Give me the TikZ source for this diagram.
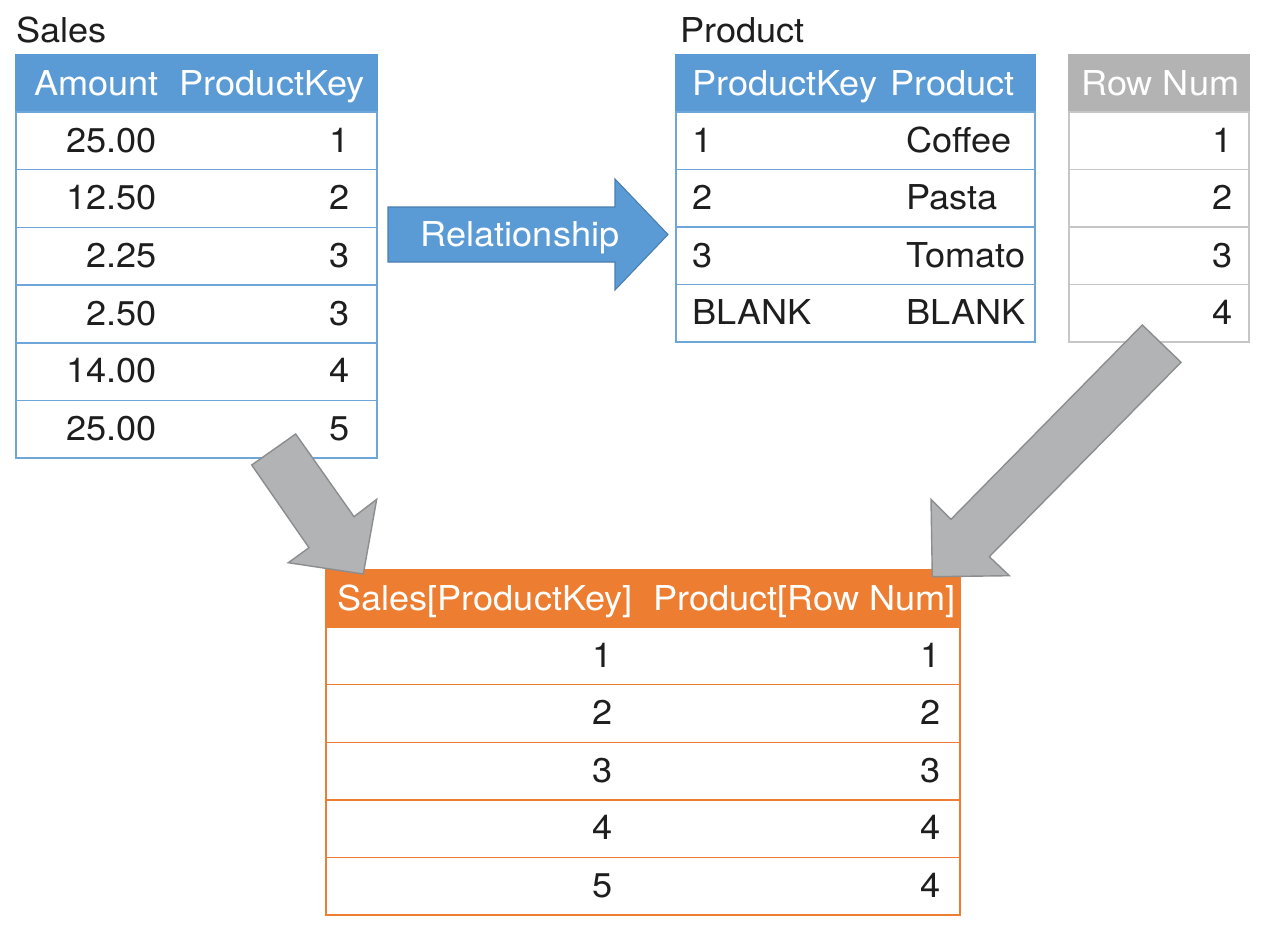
\documentclass[tikz,border=0pt]{standalone}
\usepackage{fontspec}
\setmainfont[FakeStretch=1.055]{TeX Gyre Heros}
\usetikzlibrary{positioning}

\definecolor{hdblue}{HTML}{5B9BD5}
\definecolor{lnblue}{HTML}{6FA6DA}
\definecolor{hdorange}{HTML}{ED7D31}
\definecolor{hdgray}{HTML}{B3B3B3}
\definecolor{lngray}{HTML}{C6C6C6}
\definecolor{argray}{HTML}{B2B3B5}
\definecolor{aredge}{HTML}{8C8D8F}
\definecolor{reledge}{HTML}{4A7EB0}
\definecolor{txt}{HTML}{1E1E1E}

\begin{document}
\begin{tikzpicture}[x=0.02cm,y=-0.02cm,
	every node/.style={font=\fontsize{19.5}{23}\selectfont,text=txt},
	row/.style={draw,line width=0.8pt,fill=white,minimum height=1.154cm,inner sep=0pt,outer sep=0pt,anchor=north west},
	head/.style={row,minimum height=1.14cm},
	rval/.style={anchor=base east,inner sep=0pt},
	lval/.style={anchor=base west,inner sep=0pt},
	htxt/.style={anchor=base west,inner sep=0pt,text=white},
	blockarrow/.style={fill=argray,draw=aredge,line width=0.8pt,line join=miter}]
	\useasboundingbox (0,0) rectangle (1268,930);

	% Sales table
	\node[lval] (sales-title) at (16,42) {Sales};
	\node[head,fill=hdblue,draw=hdblue,minimum width=7.22cm] (sales-head) at (16,55) {};
	\node[htxt] (sales-h1) at (34,95) {Amount};
	\node[htxt,anchor=base east] (sales-h2) at (365,95) {ProductKey};
	\foreach \amt/\key [count=\i] in {25.00/1,12.50/2,2.25/3,2.50/3,14.00/4,25.00/5}{
		\node[row,draw=lnblue,minimum width=7.22cm] (sales-\i) at (16,{112+(\i-1)*57.7}) {};
		\node[rval] (sales-amt-\i) at (157,{152+(\i-1)*57.7}) {\amt};
		\node[rval] (sales-key-\i) at (350,{152+(\i-1)*57.7}) {\key};
	}

	% Product table
	\node[lval] (prod-title) at (680,42) {Product};
	\node[head,fill=hdblue,draw=hdblue,minimum width=7.18cm] (prod-head) at (676,55) {};
	\node[htxt] (prod-h1) at (692,95) {ProductKey};
	\node[htxt] (prod-h2) at (890,95) {Product};
	\foreach \key/\name [count=\i] in {1/Coffee,2/Pasta,3/Tomato,BLANK/BLANK}{
		\node[row,draw=lnblue,minimum width=7.18cm] (prod-\i) at (676,{112+(\i-1)*57.5}) {};
		\node[lval] (prod-key-\i) at (692,{152+(\i-1)*57.5}) {\key};
		\node[lval] (prod-name-\i) at (906,{152+(\i-1)*57.5}) {\name};
	}

	% Row Num column
	\node[head,fill=hdgray,draw=hdgray,minimum width=3.6cm] (num-head) at (1069,55) {};
	\node[htxt] (num-h1) at (1081,95) {Row Num};
	\foreach \i in {1,...,4}{
		\node[row,draw=lngray,minimum width=3.6cm] (num-\i) at (1069,{112+(\i-1)*57.5}) {};
		\node[rval] (num-val-\i) at (1233,{152+(\i-1)*57.5}) {\i};
	}

	% Result table
	\node[head,fill=hdorange,draw=hdorange,minimum width=12.68cm] (res-head) at (326,570) {};
	\node[htxt] (res-h1) at (337,610) {Sales[ProductKey]};
	\node[htxt,anchor=base east] (res-h2) at (956,610) {Product[Row Num]};
	\foreach \a/\b [count=\i] in {1/1,2/2,3/3,4/4,5/4}{
		\node[row,draw=hdorange,minimum width=12.68cm] (res-\i) at (326,{627+(\i-1)*57.6}) {};
		\node[rval] (res-a-\i) at (613,{667+(\i-1)*57.6}) {\a};
		\node[rval] (res-b-\i) at (941,{667+(\i-1)*57.6}) {\b};
	}

	% Relationship arrow
	\fill[hdblue,draw=reledge,line width=0.6pt] (388,207) -- (615,207) -- (615,179) -- (668,234.5)
		-- (615,290) -- (615,262) -- (388,262) -- cycle;
	\node[anchor=base,inner sep=0pt,text=white] (rel) at (520,246) {Relationship};

	% Gray arrows into the result
	\draw[blockarrow] (295.7,434) -- (354,516.7) -- (376.7,499.3) -- (363.3,574) -- (288.3,562.7)
		-- (309,547.7) -- (251.7,465) -- cycle;
	\draw[blockarrow] (1142.3,325) -- (1181,362.3) -- (989.3,556.7) -- (1009.3,575.7) -- (932.3,576.7)
		-- (931,499.3) -- (951,519.3) -- cycle;
\end{tikzpicture}
\end{document}
